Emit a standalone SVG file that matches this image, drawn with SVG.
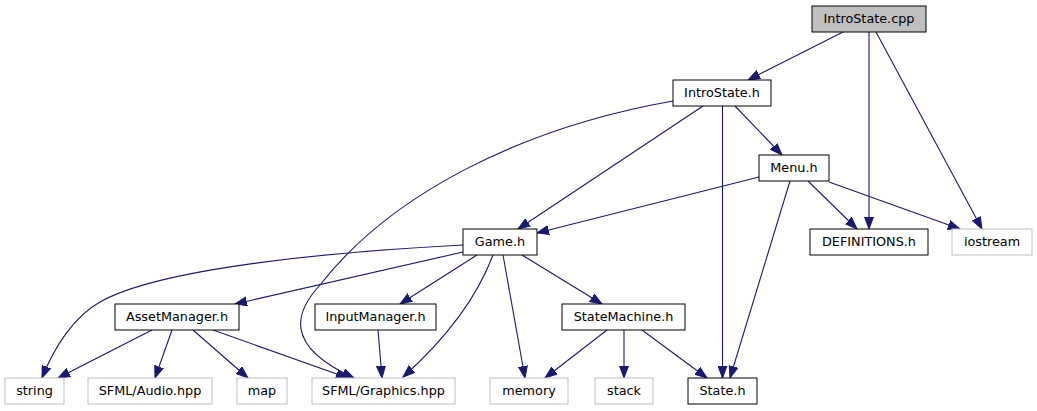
<svg xmlns="http://www.w3.org/2000/svg" width="1037" height="411" viewBox="0 0 1037 411">
<style>
.n rect{fill:#ffffff;stroke:#000000;stroke-width:1}
.n.root rect{fill:#bfbfbf}
.n.ext rect{stroke:#bfbfbf}
.n text{font-family:"DejaVu Sans","Liberation Sans",sans-serif;font-size:12.8px;fill:#000000;text-anchor:middle}
#edges path{fill:none;stroke:#191970;stroke-width:1.1;marker-end:url(#arr)}
</style>
<defs>
<marker id="arr" markerUnits="userSpaceOnUse" markerWidth="13" markerHeight="10" refX="12" refY="5" orient="auto">
<path d="M0,0.5 L12,5 L0,9.5 z" fill="#191970" stroke="#191970" stroke-width="1"/>
</marker>
</defs>
<rect width="1037" height="411" fill="#ffffff"/>
<g id="edges">
<path d="M843,32 L748,80"/>
<path d="M869,32 L869,229"/>
<path d="M876,32 L982,229"/>
<path d="M703,106 L518,229"/>
<path d="M722.5,106 L722.5,378"/>
<path d="M735,106 L782,155"/>
<path d="M673,101 C520,128 390,195 320,285 C296,311 282,345 354,378"/>
<path d="M759,177 L537,233"/>
<path d="M808,181 L857,229"/>
<path d="M829,182 L960,229"/>
<path d="M790,181 L730,378"/>
<path d="M463,245 C330,252 160,268 100,302 C75,316 55,345 42,378"/>
<path d="M463,252 L235,304"/>
<path d="M477,255 L400,304"/>
<path d="M493,255 C478,295 450,335 403,377"/>
<path d="M503,255 L525,378"/>
<path d="M522,255 L602,304"/>
<path d="M152,330 L58,378"/>
<path d="M172,330 L155,378"/>
<path d="M193,330 L248,378"/>
<path d="M213,330 L348,378"/>
<path d="M378,330 L382,378"/>
<path d="M607,330 L545,378"/>
<path d="M624,330 L624,378"/>
<path d="M642,330 L707,378"/>
</g>
<g id="node-IntroState-cpp" class="n root"><rect x="812" y="6" width="114" height="26"/><text x="869" y="23">IntroState.cpp</text></g>
<g id="node-IntroState-h" class="n"><rect x="673" y="80" width="98" height="26"/><text x="722" y="97">IntroState.h</text></g>
<g id="node-Menu-h" class="n"><rect x="759" y="155" width="70" height="26"/><text x="794" y="172">Menu.h</text></g>
<g id="node-Game-h" class="n"><rect x="463" y="229" width="74" height="26"/><text x="500" y="246">Game.h</text></g>
<g id="node-DEFINITIONS-h" class="n"><rect x="810" y="229" width="118" height="26"/><text x="869" y="246">DEFINITIONS.h</text></g>
<g id="node-iostream" class="n ext"><rect x="952" y="229" width="80" height="26"/><text x="992" y="246">iostream</text></g>
<g id="node-AssetManager-h" class="n"><rect x="115" y="304" width="124" height="26"/><text x="177" y="321">AssetManager.h</text></g>
<g id="node-InputManager-h" class="n"><rect x="315" y="304" width="121" height="26"/><text x="375.5" y="321">InputManager.h</text></g>
<g id="node-StateMachine-h" class="n"><rect x="562" y="304" width="123" height="26"/><text x="623.5" y="321">StateMachine.h</text></g>
<g id="node-string" class="n ext"><rect x="5" y="378" width="59" height="26"/><text x="34.5" y="395">string</text></g>
<g id="node-SFML-Audio" class="n ext"><rect x="88" y="378" width="124" height="26"/><text x="150" y="395">SFML/Audio.hpp</text></g>
<g id="node-map" class="n ext"><rect x="237" y="378" width="50" height="26"/><text x="262" y="395">map</text></g>
<g id="node-SFML-Graphics" class="n ext"><rect x="312" y="378" width="143" height="26"/><text x="383.5" y="395">SFML/Graphics.hpp</text></g>
<g id="node-memory" class="n ext"><rect x="490" y="378" width="78" height="26"/><text x="529" y="395">memory</text></g>
<g id="node-stack" class="n ext"><rect x="595" y="378" width="58" height="26"/><text x="624" y="395">stack</text></g>
<g id="node-State-h" class="n"><rect x="688" y="378" width="69" height="26"/><text x="722.5" y="395">State.h</text></g>
</svg>
